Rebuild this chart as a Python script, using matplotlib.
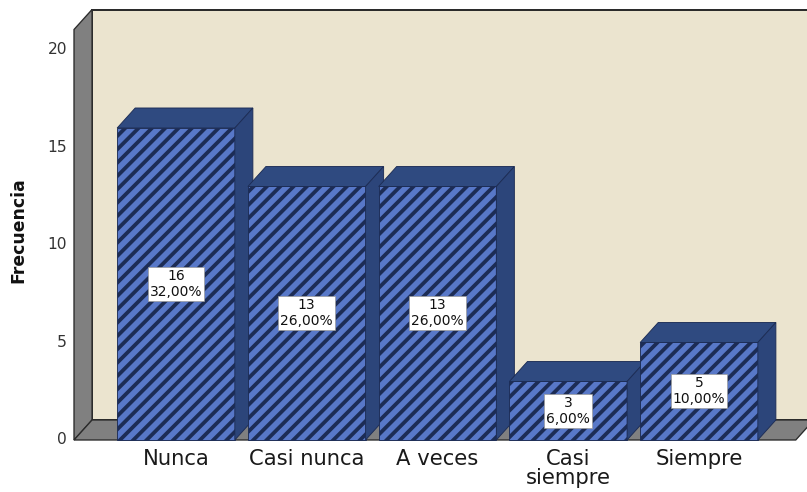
import numpy as np
import matplotlib
matplotlib.use('Agg')
from matplotlib import pyplot as plt
from matplotlib.patches import Polygon, Rectangle

# datos
categorias = ['Nunca', 'Casi nunca', 'A veces', 'Casi\nsiempre', 'Siempre']
frecuencia = [16, 13, 13, 3, 5]
yticks = [0, 5, 10, 15, 20]
total = sum(frecuencia)

# profundidad 3D (en unidades de datos)
dx, dy = 0.138, 1.026
ancho = 0.9
y_top = 21.05
x_izq, x_der = -0.78, 4.74

plt.rcParams['hatch.linewidth'] = 3.4
plt.rcParams['hatch.color'] = '#05050d'

fig = plt.figure(figsize=(807 / 80, 492 / 80), dpi=80)
ax = fig.add_axes([0, 0, 1, 1])
ax.set_xlim(-1.346, 4.826)
ax.set_ylim(-2.667, 22.564)
ax.axis('off')

# pared del fondo
ax.add_patch(Rectangle((x_izq + dx, dy), 10, y_top, facecolor='#ebe4cf',
                       edgecolor='#2b2b2b', lw=1.8, zorder=1))
# pared izquierda
ax.add_patch(Polygon([(x_izq, 0), (x_izq, y_top), (x_izq + dx, y_top + dy), (x_izq + dx, dy)],
                     closed=True, facecolor='#808080', edgecolor='#2b2b2b', lw=1.2, zorder=2))
# suelo
ax.add_patch(Polygon([(x_izq, 0), (x_der, 0), (x_der + dx, dy), (x_izq + dx, dy)],
                     closed=True, facecolor='#808080', edgecolor='#2b2b2b', lw=1.2, zorder=2))

# barras
for i, v in enumerate(frecuencia):
    x0 = i - ancho / 2
    x1 = i + ancho / 2
    z = 3 + i
    ax.add_patch(Rectangle((x0, 0), ancho, v, facecolor='#5878c8', edgecolor='#1c2c55',
                           hatch='//', lw=0.8, zorder=z))
    ax.add_patch(Polygon([(x0, v), (x1, v), (x1 + dx, v + dy), (x0 + dx, v + dy)], closed=True,
                         facecolor='#2f4a80', edgecolor='#1c2c55', lw=0.8, zorder=z))
    ax.add_patch(Polygon([(x1, 0), (x1, v), (x1 + dx, v + dy), (x1 + dx, dy)], closed=True,
                         facecolor='#2c457a', edgecolor='#1c2c55', lw=0.8, zorder=z))
    pct = '{:.2f}%'.format(100 * v / total).replace('.', ',')
    ax.text(i, v / 2, '{}\n{}'.format(v, pct), ha='center', va='center', fontsize=12.5,
            linespacing=1.15, color='#111111', zorder=20,
            bbox=dict(boxstyle='square,pad=0.15', facecolor='white', edgecolor='#999999', lw=0.6))
    ax.text(i, -0.46, categorias[i], ha='center', va='top', fontsize=19,
            linespacing=0.92, color='#1a1a1a', zorder=20)

for t in yticks:
    ax.text(-0.834, t, str(t), ha='right', va='center', fontsize=14, color='#333333')

ax.text(-1.208, 10.77, 'Frecuencia', rotation=90, ha='center', va='center',
        fontsize=15.5, fontweight='bold', color='#111111')

fig.savefig('out.png', dpi=80)
